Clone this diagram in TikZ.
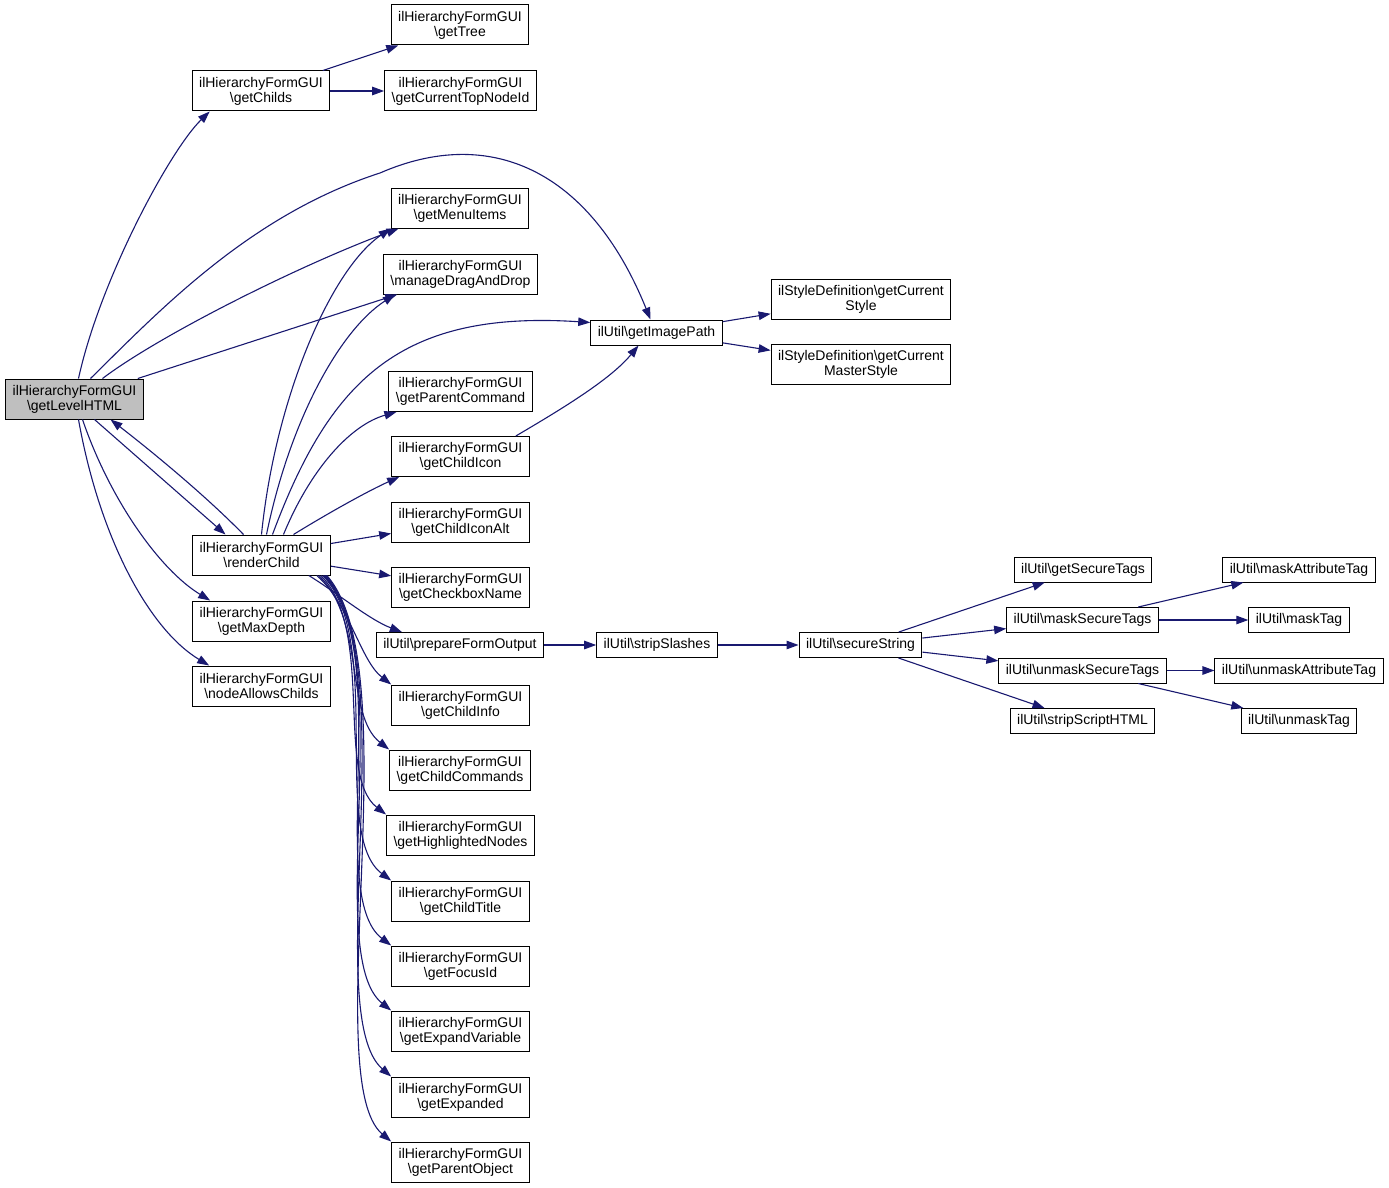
\documentclass[tikz,border=0pt]{standalone}
\usepackage{fontspec}
\setmainfont{Liberation Sans}
\usepackage{tikz}
\usetikzlibrary{arrows.meta}
\definecolor{dox-edge}{HTML}{191970}
\definecolor{dox-root}{HTML}{BFBFBF}
\newcommand{\bs}{\textbackslash}
\tikzset{
  fnbox/.style={draw=black, line width=1pt, fill=white, align=center, inner xsep=7pt, inner ysep=2pt, minimum height=40pt, font=\fontsize{14}{15}\selectfont},
  fnline/.style={fnbox, minimum height=25pt},
  fnroot/.style={fnbox, fill=dox-root},
  call/.style={-{Triangle[length=12pt, width=8.5pt]}, dox-edge, line width=1.1pt}
}

\begin{document}
\begin{tikzpicture}[x=1pt, y=-1pt]
    \useasboundingbox (0,0) rectangle (1389,1188);

    % root and first level
    \node[fnroot] (lvl) at (74.5,399) {ilHierarchyFormGUI\\\bs getLevelHTML};
    \node[fnbox] (childs) at (261,91) {ilHierarchyFormGUI\\\bs getChilds};
    \node[fnbox] (render) at (261.5,555) {ilHierarchyFormGUI\\\bs renderChild};
    \node[fnbox] (maxdepth) at (261.5,621) {ilHierarchyFormGUI\\\bs getMaxDepth};
    \node[fnbox] (allows) at (261.5,686) {ilHierarchyFormGUI\\\bs nodeAllowsChilds};

    % second level
    \node[fnbox] (tree) at (460,25) {ilHierarchyFormGUI\\\bs getTree};
    \node[fnbox] (topnode) at (460.5,91) {ilHierarchyFormGUI\\\bs getCurrentTopNodeId};
    \node[fnbox] (menu) at (460,208) {ilHierarchyFormGUI\\\bs getMenuItems};
    \node[fnbox] (drag) at (460.5,274) {ilHierarchyFormGUI\\\bs manageDragAndDrop};
    \node[fnbox] (parentcmd) at (460.5,391.5) {ilHierarchyFormGUI\\\bs getParentCommand};
    \node[fnbox] (icon) at (460.5,456.5) {ilHierarchyFormGUI\\\bs getChildIcon};
    \node[fnbox] (iconalt) at (460.5,522) {ilHierarchyFormGUI\\\bs getChildIconAlt};
    \node[fnbox] (checkbox) at (460.5,587) {ilHierarchyFormGUI\\\bs getCheckboxName};
    \node[fnline] (prepare) at (460,645) {ilUtil\bs prepareFormOutput};
    \node[fnbox] (info) at (460.5,705) {ilHierarchyFormGUI\\\bs getChildInfo};
    \node[fnbox] (commands) at (460,770) {ilHierarchyFormGUI\\\bs getChildCommands};
    \node[fnbox] (highlighted) at (460.5,835) {ilHierarchyFormGUI\\\bs getHighlightedNodes};
    \node[fnbox] (title) at (460.5,901) {ilHierarchyFormGUI\\\bs getChildTitle};
    \node[fnbox] (focus) at (460.5,966) {ilHierarchyFormGUI\\\bs getFocusId};
    \node[fnbox] (expandvar) at (460.5,1031) {ilHierarchyFormGUI\\\bs getExpandVariable};
    \node[fnbox] (expanded) at (460.5,1097) {ilHierarchyFormGUI\\\bs getExpanded};
    \node[fnbox] (parentobj) at (460.5,1162) {ilHierarchyFormGUI\\\bs getParentObject};

    % image path and strings
    \node[fnline] (imgpath) at (656.5,332.5) {ilUtil\bs getImagePath};
    \node[fnbox] (curstyle) at (861,299) {ilStyleDefinition\bs getCurrent\\Style};
    \node[fnbox] (masterstyle) at (861,364.5) {ilStyleDefinition\bs getCurrent\\MasterStyle};
    \node[fnline] (slashes) at (657,645) {ilUtil\bs stripSlashes};
    \node[fnline] (secure) at (860.5,645) {ilUtil\bs secureString};
    \node[fnline] (gettags) at (1083,569.5) {ilUtil\bs getSecureTags};
    \node[fnline] (masktags) at (1082.5,620) {ilUtil\bs maskSecureTags};
    \node[fnline] (unmasktags) at (1082.5,670.5) {ilUtil\bs unmaskSecureTags};
    \node[fnline] (scripthtml) at (1082.5,721) {ilUtil\bs stripScriptHTML};
    \node[fnline] (maskattr) at (1299,569.5) {ilUtil\bs maskAttributeTag};
    \node[fnline] (masktag) at (1299,620) {ilUtil\bs maskTag};
    \node[fnline] (unmaskattr) at (1299,670.5) {ilUtil\bs unmaskAttributeTag};
    \node[fnline] (unmasktag) at (1299,721) {ilUtil\bs unmaskTag};

    % calls of getLevelHTML
    \draw[call] ([xshift=4pt]lvl.north) .. controls (100,280) and (170,150) .. ([xshift=18pt]childs.south west);
    \draw[call] ([xshift=16pt]lvl.north) .. controls (160,310) and (250,215) .. (380,173) .. controls (490,125) and (590,170) .. ([xshift=-6pt]imgpath.north);
    \draw[call] ([xshift=28pt]lvl.north) .. controls (160,335) and (300,265) .. ([xshift=8pt]menu.south west);
    \draw[call] (lvl) -- (drag);
    \draw[call] ([xshift=20pt]lvl.south) -- ([xshift=-36pt]render.north);
    \draw[call] ([xshift=-18pt]render.north) .. controls (205,495) and (150,450) .. ([xshift=36pt]lvl.south);
    \draw[call] ([xshift=8pt]lvl.south) .. controls (110,500) and (160,570) .. ([xshift=18pt]maxdepth.north west);
    \draw[call] ([xshift=4pt]lvl.south) .. controls (100,540) and (150,630) .. ([xshift=17pt]allows.north west);

    % calls of getChilds and getImagePath
    \draw[call] (childs) -- (tree);
    \draw[call] (childs) -- (topnode);
    \draw[call] (imgpath) -- (curstyle);
    \draw[call] (imgpath) -- (masterstyle);
    \draw[call] ([xshift=-14pt]icon.north east) .. controls (560,410) and (610,380) .. ([xshift=-18pt]imgpath.south);

    % calls of renderChild
    \draw[call] (render.north) .. controls (275,400) and (330,270) .. (menu.south west);
    \draw[call] ([xshift=5pt]render.north) .. controls (290,420) and (340,330) .. ([xshift=12pt]drag.south west);
    \draw[call] ([xshift=11pt]render.north) .. controls (330,380) and (400,310) .. ([yshift=10pt]imgpath.west);
    \draw[call] ([xshift=22pt]render.north) .. controls (310,470) and (350,425) .. ([xshift=8pt]parentcmd.south west);
    \draw[call] ([xshift=32pt]render.north) .. controls (330,512) and (370,490) .. ([xshift=8pt]icon.south west);
    \draw[call] (render) -- (iconalt);
    \draw[call] (render) -- (checkbox);
    \draw[call] ([xshift=-22pt]render.south east) .. controls (340,595) and (370,620) .. ([xshift=26pt]prepare.north west);
    \draw[call] ([xshift=-14pt]render.south east) .. controls (350,605) and (360,660) .. (info.north west);
    \draw[call] ([xshift=-12pt]render.south east) .. controls (365,620) and (345,715) .. (commands.north west);
    \draw[call] ([xshift=-10pt]render.south east) .. controls (375,630) and (335,775) .. (highlighted.north west);
    \draw[call] ([xshift=-8pt]render.south east) .. controls (385,640) and (330,835) .. (title.north west);
    \draw[call] ([xshift=-7pt]render.south east) .. controls (395,650) and (325,895) .. (focus.north west);
    \draw[call] ([xshift=-6pt]render.south east) .. controls (400,660) and (322,955) .. (expandvar.north west);
    \draw[call] ([xshift=-5pt]render.south east) .. controls (405,665) and (320,1015) .. (expanded.north west);
    \draw[call] ([xshift=-4pt]render.south east) .. controls (410,670) and (318,1080) .. (parentobj.north west);

    % string handling
    \draw[call] (prepare) -- (slashes);
    \draw[call] (slashes) -- (secure);
    \draw[call] (secure) -- (gettags);
    \draw[call] (secure) -- (masktags);
    \draw[call] (secure) -- (unmasktags);
    \draw[call] (secure) -- (scripthtml);
    \draw[call] (masktags) -- (maskattr);
    \draw[call] (masktags) -- (masktag);
    \draw[call] (unmasktags) -- (unmaskattr);
    \draw[call] (unmasktags) -- (unmasktag);

\end{tikzpicture}
\end{document}
